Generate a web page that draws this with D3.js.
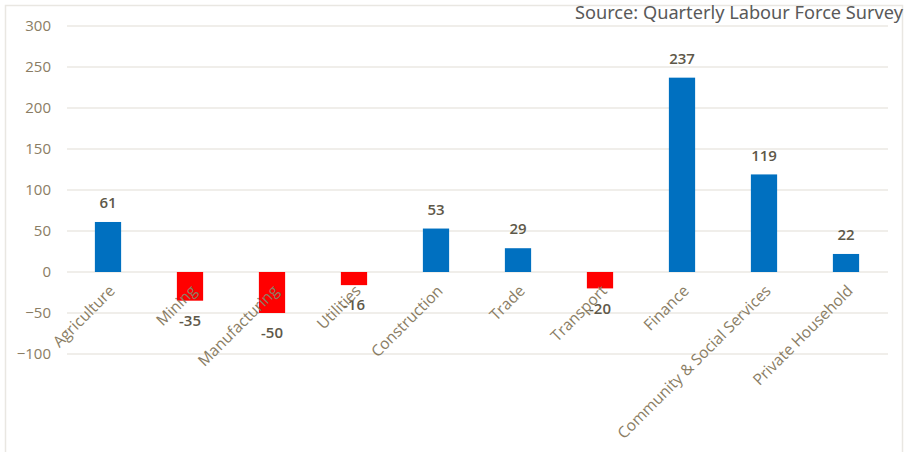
<!DOCTYPE html>
<html>
<head>
<meta charset="utf-8">
<script src="https://cdn.jsdelivr.net/npm/d3@7"></script>
<style>
  body { margin: 0; background: #fff; }
  svg { display: block; }
</style>
</head>
<body>
<svg id="chart" width="908" height="452"></svg>
<script>
// Employment change by industry (thousands)
const industries = ["Agriculture", "Mining", "Manufacturing", "Utilities", "Construction",
    "Trade", "Transport", "Finance", "Community & Social Services", "Private Household"];
const changes = [61, -35, -50, -16, 53, 29, -20, 237, 119, 22];
const yTicks = [-100, -50, 0, 50, 100, 150, 200, 250, 300];
const sourceNote = "Source: Quarterly Labour Force Survey";

const svg = d3.select("#chart");
const data = industries.map((name, i) => ({ name: name, value: changes[i] }));

// Frame around the chart
svg.append("rect")
    .attr("x", 5.5)
    .attr("y", 5.5)
    .attr("width", 897)
    .attr("height", 460)
    .attr("fill", "none")
    .attr("stroke", "#e9e7e2")
    .attr("stroke-width", 1.5);

const xScale = d3.scaleBand()
    .domain(industries)
    .range([67, 887])
    .paddingInner(0.68)
    .paddingOuter(0.34);

const yScale = d3.scaleLinear()
    .domain([-100, 300])
    .range([354, 26]);

// Gridlines
svg.append("g")
    .selectAll("line")
    .data(yTicks)
    .enter()
    .append("line")
    .attr("x1", 67)
    .attr("x2", 888)
    .attr("y1", d => yScale(d))
    .attr("y2", d => yScale(d))
    .attr("stroke", "#ebe9e3")
    .attr("stroke-width", 1.5);

// Y axis labels
const yAxis = d3.axisLeft(yScale).tickValues(yTicks).tickSize(0).tickPadding(0);
const yG = svg.append("g")
    .attr("transform", "translate(51, 0)")
    .call(yAxis);
yG.select(".domain").remove();
yG.selectAll("text")
    .attr("fill", "#8a7d64")
    .attr("font-family", "Open Sans, sans-serif")
    .attr("font-size", "15px");

// Bars
svg.selectAll(".bar")
    .data(data)
    .enter()
    .append("rect")
    .attr("class", "bar")
    .attr("x", d => xScale(d.name))
    .attr("width", xScale.bandwidth())
    .attr("y", d => yScale(Math.max(0, d.value)))
    .attr("height", d => Math.abs(yScale(d.value) - yScale(0)))
    .attr("fill", d => d.value >= 0 ? "#0070c0" : "#ff0000");

// Value labels
svg.selectAll(".value-label")
    .data(data)
    .enter()
    .append("text")
    .attr("class", "value-label")
    .attr("x", d => xScale(d.name) + xScale.bandwidth() / 2)
    .attr("y", d => d.value >= 0 ? yScale(d.value) - 19 : yScale(d.value) + 20)
    .attr("dy", "0.35em")
    .attr("text-anchor", "middle")
    .attr("fill", "#5e5849")
    .attr("font-family", "Open Sans, sans-serif")
    .attr("font-size", "15px")
    .attr("font-weight", 600)
    .text(d => d.value);

// Category labels, rotated
svg.selectAll(".cat-label")
    .data(data)
    .enter()
    .append("text")
    .attr("class", "cat-label")
    .attr("transform", d => `translate(${xScale(d.name) + xScale.bandwidth() / 2 + 4}, 288) rotate(-45)`)
    .attr("text-anchor", "end")
    .attr("dy", "0.35em")
    .attr("fill", "#8a7d64")
    .attr("font-family", "Open Sans, sans-serif")
    .attr("font-size", "15.6px")
    .text(d => d.name);

// Source note
svg.append("text")
    .attr("x", 903)
    .attr("y", 13)
    .attr("dy", "0.35em")
    .attr("text-anchor", "end")
    .attr("fill", "#595959")
    .attr("font-family", "Noto Sans, sans-serif")
    .attr("font-size", "18.2px")
    .text(sourceNote);
</script>
</body>
</html>
